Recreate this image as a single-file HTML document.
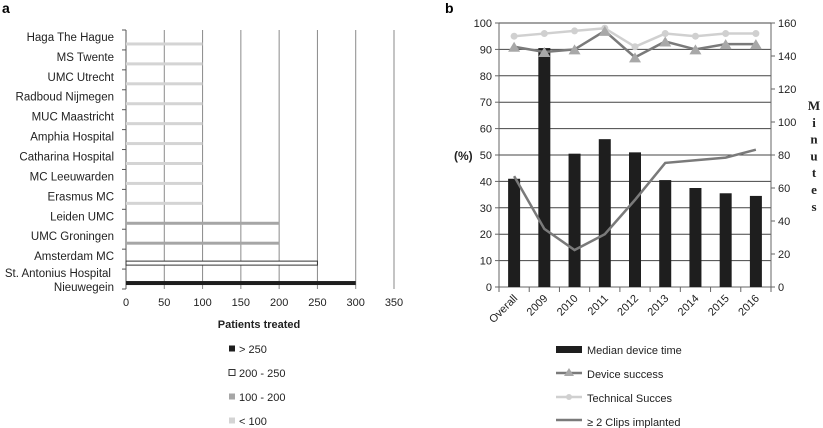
<!DOCTYPE html>
<html><head><meta charset="utf-8"><style>
html,body{margin:0;padding:0;background:#fff}
svg{display:block;font-family:"Liberation Sans",sans-serif}
</style></head><body>
<svg id="s" width="823" height="428" viewBox="0 0 823 428">
<text x="2" y="13" font-size="14" font-weight="bold">a</text>
<text x="445" y="13" font-size="14" font-weight="bold">b</text>
<g id="ga"></g>
<g id="gb"></g>
</svg>
<script>
const hospitals=["Haga The Hague","MS Twente","UMC Utrecht","Radboud Nijmegen","MUC Maastricht","Amphia Hospital","Catharina Hospital","MC Leeuwarden","Erasmus MC","Leiden UMC","UMC Groningen","Amsterdam MC","St. Antonius Hospital|Nieuwegein"];
const patients=[100,100,100,100,100,100,100,100,100,200,200,250,300];
const xTicksA=[0,50,100,150,200,250,300,350];
const years=["Overall","2009","2010","2011","2012","2013","2014","2015","2016"];
const medianTime=[41,90.5,50.5,56,51,40.5,37.5,35.5,34.5];
const deviceSuccess=[91,89,90,97,87,93,90,92,92];
const technicalSuccess=[95,96,97,98,91,96,95,96,96];
const clips=[42,22,14,20,33,47,48,49,52];
const yTicksL=[0,10,20,30,40,50,60,70,80,90,100];
const yTicksR=[0,20,40,60,80,100,120,140,160];
const NS="http://www.w3.org/2000/svg";
function mk(p,t,a,txt){const e=document.createElementNS(NS,t);for(const k in a)e.setAttribute(k,a[k]);if(txt!==undefined)e.textContent=txt;p.appendChild(e);return e;}
// Panel a
const ga=document.getElementById('ga');
const ax0=126,ax1=394,ay0=30,ay1=289;
const xa=v=>ax0+(v/350)*(ax1-ax0);
const band=(ay1-ay0)/hospitals.length;
xTicksA.forEach(t=>{
 if(t>0){const g=mk(ga,'line',{x1:xa(t),x2:xa(t),y1:ay0,y2:ay1,stroke:'#8a8a8a','stroke-width':1});
 
 }
 const l=mk(ga,'text',{x:xa(t),y:ay1+17,'font-size':11,'text-anchor':'middle',fill:'#222'},t);
 
 
});
mk(ga,'line',{x1:ax0,x2:ax0,y1:ay0,y2:ay1,stroke:'#555'});
for(let i=0;i<=hospitals.length;i++){mk(ga,'line',{x1:ax0-4,x2:ax0,y1:ay0+i*band,y2:ay0+i*band,stroke:'#555'});}
hospitals.forEach((h,i)=>{
 const cy=ay0+(i+0.5)*band;
 const parts=h.split('|');
 if(parts.length==1){const t=mk(ga,'text',{x:114,y:cy+1,'font-size':11.5,'text-anchor':'end',fill:'#222'},h);
  
  }
 else{parts.forEach((p,j)=>{const t=mk(ga,'text',{x:j==0?111:114,y:cy-2+j*14,'font-size':11.5,'text-anchor':'end',fill:'#222'},p);
  
  });}
 const v=patients[i];let fill,stroke='none',h2=3;
 if(v>250){fill='#1e1e1e';h2=4}else if(v>200){fill='#fff';stroke='#333';h2=4}else if(v>100){fill='#a6a6a6'}else fill='#d4d4d4';
 const r=mk(ga,'rect',{x:ax0,y:cy+4-h2/2,width:xa(v)-ax0,height:h2,fill:fill,stroke:stroke});
 
 
});
const at=mk(ga,'text',{x:259,y:328,'font-size':11,'font-weight':'bold','text-anchor':'middle',fill:'#222'},'Patients treated');


const legA=[['> 250','#1e1e1e','none'],['200 - 250','#fff','#333'],['100 - 200','#a6a6a6','none'],['< 100','#d4d4d4','none']];
legA.forEach((l,i)=>{const y=349+i*24;
 const r=mk(ga,'rect',{x:229,y:y-3.5,width:6,height:6,fill:l[1],stroke:l[2]});
 
 
 const t=mk(ga,'text',{x:239,y:y+4,'font-size':11,fill:'#222'},l[0]);
 
 });
// Panel b
const gb=document.getElementById('gb');
const bx0=499,bx1=771,by0=287,by1=23;
const yl=v=>by0+(v/100)*(by1-by0);
const yr=v=>by0+(v/160)*(by1-by0);
const cw=(bx1-bx0)/years.length;
const xc=i=>bx0+(i+0.5)*cw;
yTicksL.forEach(t=>{
 const g=mk(gb,'line',{x1:bx0,x2:bx1,y1:yl(t),y2:yl(t),stroke:t==0?'#666':'#444','stroke-width':1});
 
 
 mk(gb,'line',{x1:bx0-4,x2:bx0,y1:yl(t),y2:yl(t),stroke:'#666'});
 const l=mk(gb,'text',{x:bx0-7,y:yl(t)+4,'font-size':11,'text-anchor':'end',fill:'#222'},t);
 
 
});
yTicksR.forEach(t=>{
 mk(gb,'line',{x1:bx1,x2:bx1+4,y1:yr(t),y2:yr(t),stroke:'#666'});
 const l=mk(gb,'text',{x:bx1+7,y:yr(t)+4,'font-size':11,fill:'#222'},t);
 
 
});
mk(gb,'line',{x1:bx0,x2:bx0,y1:by1,y2:by0,stroke:'#666'});
mk(gb,'line',{x1:bx1,x2:bx1,y1:by1,y2:by0,stroke:'#666'});
for(let i=0;i<=years.length;i++)mk(gb,'line',{x1:bx0+i*cw,x2:bx0+i*cw,y1:by0,y2:by0+5,stroke:'#666'});
years.forEach((y,i)=>{
 const b=mk(gb,'rect',{x:xc(i)-6,y:yl(medianTime[i]),width:12,height:by0-yl(medianTime[i]),fill:'#1e1e1e'});
 
 
 const t=mk(gb,'text',{x:xc(i)+4,y:by0+12,'font-size':11,'text-anchor':'end',fill:'#222',transform:`rotate(-45 ${xc(i)+4} ${by0+12})`},y);
 
 
});
function series(vals,color,w,name){
 const p=mk(gb,'polyline',{points:vals.map((v,i)=>xc(i)+','+yl(v)).join(' '),fill:'none',stroke:color,'stroke-width':w});
 
 
}
series(clips,'#7a7a7a',2.5,'clips-line');
series(technicalSuccess,'#d0d0d0',2.5,'technical-success-line');
technicalSuccess.forEach((v,i)=>{const c=mk(gb,'circle',{cx:xc(i),cy:yl(v),r:3.5,fill:'#d0d0d0'});
 
 });
series(deviceSuccess,'#7a7a7a',2.5,'device-success-line');
deviceSuccess.forEach((v,i)=>{const x=xc(i),y=yl(v);
 const c=mk(gb,'polygon',{points:`${x},${y-5} ${x-6},${y+5} ${x+6},${y+5}`,fill:'#a8a8a8'});
 
 });
const pl=mk(gb,'text',{x:454,y:160,'font-size':12,'font-weight':'bold',fill:'#222'},'(%)');


const rt=mk(gb,'text',{x:814,y:0,'font-size':13,'font-weight':'bold','text-anchor':'middle',fill:'#222','font-family':'Liberation Serif, serif'});


'Minutes'.split('').forEach((c,i)=>{mk(rt,'tspan',{x:814,y:110+i*16.8},c);});
// legend b
const lr=mk(gb,'rect',{x:556,y:346,width:26,height:7,fill:'#1e1e1e'});


mk(gb,'line',{x1:556,x2:582,y1:373,y2:373,stroke:'#7a7a7a','stroke-width':2.5});
mk(gb,'polygon',{points:'569,368 564,376 574,376',fill:'#a8a8a8'});
mk(gb,'line',{x1:556,x2:582,y1:397,y2:397,stroke:'#d0d0d0','stroke-width':2.5});
mk(gb,'circle',{cx:569,cy:397,r:3,fill:'#d0d0d0'});
mk(gb,'line',{x1:556,x2:582,y1:420,y2:420,stroke:'#7a7a7a','stroke-width':2.5});
['Median device time','Device success','Technical Succes','≥ 2 Clips implanted'].forEach((s,i)=>{
 const t=mk(gb,'text',{x:587,y:354+i*24,'font-size':11,fill:'#222'},s);
 
 });
</script>
</body></html>
